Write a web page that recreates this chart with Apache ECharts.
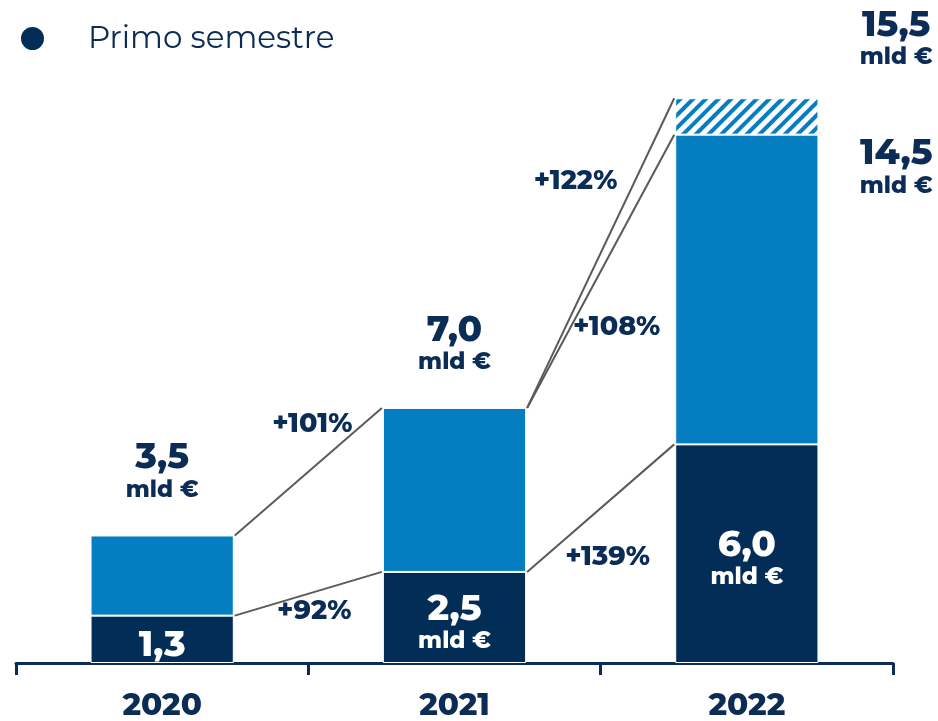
<!DOCTYPE html>
<html><head><meta charset="utf-8">
<script src="https://cdn.jsdelivr.net/npm/echarts@6/dist/echarts.min.js"></script>
<style>html,body{margin:0;padding:0;background:#fff}#c{width:938px;height:721px}</style>
</head><body><div id="c"></div>
<script>
const categories = ['2020', '2021', '2022'];
const firstHalf = [1.3, 2.5, 6.0];
const fullYear = [3.5, 7.0, 14.5];
const estimate2022 = 15.5;
const totalLabels = ['3,5', '7,0', '14,5'];
const firstLabels = ['1,3', '2,5', '6,0'];
const estimateLabel = '15,5';
// growth connectors: [fromCategory, fromValue, toCategory, toValue, text]
const growth = [
  [0, 3.5, 1, 7.0, '+101%'],
  [0, 1.3, 1, 2.5, '+92%'],
  [1, 7.0, 2, 14.5, '+108%'],
  [1, 7.0, 2, 15.5, '+122%'],
  [1, 2.5, 2, 6.0, '+139%']
];
// label offsets from connector midpoint (layout only)
const growthLabelOffsets = [[4, -48], [6, 17], [16, 56], [-25, -72], [7, 49]];

const secondHalf = fullYear.map((v, i) => +(v - firstHalf[i]).toFixed(1));
const extra = [null, null, +(estimate2022 - fullYear[2]).toFixed(1)];

const NAVY = '#022d56';
const BLUE = '#057dc1';
const TXT = '#0b2c55';
const FONT = 'Montserrat, "Open Sans", sans-serif';
const BW = 0.49;
const W = 800;

const richDark = {
  n: { fontSize: 36, fontWeight: W, lineHeight: 38, color: TXT, align: 'center' },
  u: { fontSize: 23, fontWeight: W, lineHeight: 27, color: TXT, align: 'center' }
};
const richWhite = {
  n: { fontSize: 36, fontWeight: W, lineHeight: 38, color: '#fff' },
  u: { fontSize: 23, fontWeight: W, lineHeight: 27, color: '#fff' }
};

const chart = echarts.init(document.getElementById('c'));
chart.setOption({
  animation: false,
  textStyle: { fontFamily: FONT },
  legend: {
    data: ['Primo semestre'], left: 14, top: 18, icon: 'circle',
    itemWidth: 25, itemHeight: 25,
    textStyle: { fontSize: 31, color: TXT, fontFamily: FONT, padding: [0, 0, 0, 38] }
  },
  grid: { left: 16, right: 45, top: 80, bottom: 55 },
  xAxis: {
    type: 'category', data: categories,
    axisLine: { lineStyle: { color: TXT, width: 3 } },
    axisTick: { show: true, length: 12, lineStyle: { color: TXT, width: 3 } },
    axisLabel: { fontSize: 31, fontWeight: W, color: TXT, margin: 27, fontFamily: FONT }
  },
  yAxis: { type: 'value', min: 0, max: 16, show: false, splitLine: { show: false } },
  series: [
    {
      name: 'Primo semestre', type: 'bar', stack: 's', barWidth: (BW * 100) + '%',
      data: firstHalf.map((v, i) => ({
        value: v,
        label: {
          show: true, position: 'inside', color: '#fff', fontFamily: FONT,
          formatter: i === 0 ? '{n|' + firstLabels[i] + '}' : '{n|' + firstLabels[i] + '}\n{u|mld €}',
          rich: richWhite,
          offset: i === 0 ? [0, 6] : [0, 5]
        }
      })),
      itemStyle: { color: NAVY, borderColor: '#fff', borderWidth: 1 }
    },
    {
      name: 'Secondo semestre', type: 'bar', stack: 's',
      data: secondHalf.map((v, i) => ({
        value: v,
        label: i < 2 ? {
          show: true, position: 'top', distance: 32, fontFamily: FONT,
          formatter: '{n|' + totalLabels[i] + '}\n{u|mld €}',
          rich: richDark
        } : {
          show: true, position: [221, 0], align: 'center', verticalAlign: 'top', fontFamily: FONT,
          formatter: '{n|' + totalLabels[i] + '}\n{u|mld €}',
          rich: richDark
        }
      })),
      itemStyle: { color: BLUE, borderColor: '#fff', borderWidth: 1 }
    },
    {
      name: 'Stima', type: 'bar', stack: 's',
      data: extra.map((v, i) => v == null ? '-' : ({
        value: v,
        label: {
          show: true, position: [221, -92], align: 'center', verticalAlign: 'top', fontFamily: FONT,
          formatter: '{n|' + estimateLabel + '}\n{u|mld €}',
          rich: richDark
        }
      })),
      itemStyle: {
        color: '#fff', borderColor: '#fff', borderWidth: 1,
        decal: { symbol: 'rect', color: BLUE, dashArrayX: [1, 0], dashArrayY: [4, 5], rotation: -Math.PI / 4 }
      }
    },
    {
      name: 'growth', type: 'custom', z: 5,
      data: growth,
      encode: { x: [0, 2], y: [1, 3] },
      renderItem: function (params, api) {
        const half = api.size([1, 0])[0] * BW / 2;
        const p1 = api.coord([api.value(0), api.value(1)]);
        const p2 = api.coord([api.value(2), api.value(3)]);
        const x1 = p1[0] + half + 1, y1 = p1[1];
        const x2 = p2[0] - half - 1, y2 = p2[1];
        const off = growthLabelOffsets[params.dataIndex];
        return {
          type: 'group',
          children: [
            { type: 'line', shape: { x1: x1, y1: y1, x2: x2, y2: y2 },
              style: { stroke: '#5a5a5a', lineWidth: 2 } },
            { type: 'text', x: (x1 + x2) / 2 + off[0], y: (y1 + y2) / 2 + off[1],
              style: { text: growth[params.dataIndex][4], fill: TXT, font: W + ' 27px ' + FONT,
                       align: 'center', verticalAlign: 'middle' } }
          ]
        };
      }
    }
  ]
});
</script></body></html>
